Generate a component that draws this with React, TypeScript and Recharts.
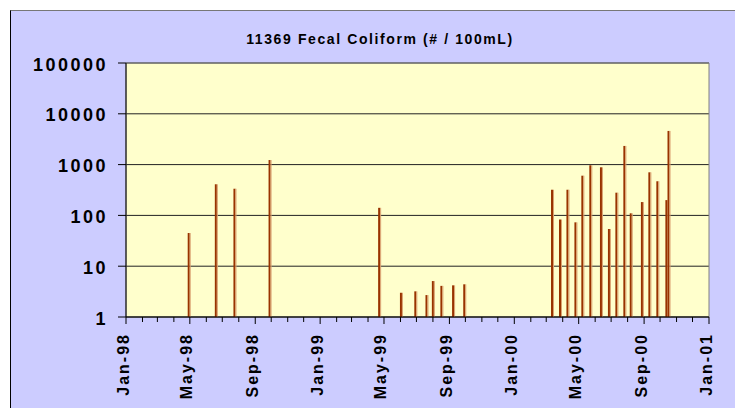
import React from 'react';
import { ComposedChart, Bar, XAxis, YAxis, CartesianGrid, ReferenceArea } from 'recharts';

const sampleDates = [
  '1998-04-29', '1998-06-19', '1998-07-24', '1998-09-28',
  '1999-04-22', '1999-06-02', '1999-06-29', '1999-07-20', '1999-08-01', '1999-08-17', '1999-09-08', '1999-09-29',
  '2000-03-12', '2000-03-27', '2000-04-10', '2000-04-25', '2000-05-08', '2000-05-23', '2000-06-12', '2000-06-27',
  '2000-07-11', '2000-07-26', '2000-08-07', '2000-08-28', '2000-09-11', '2000-09-26', '2000-10-13', '2000-10-17',
];
const coliformValues = [
  45, 410, 335, 1230,
  141, 3.0, 3.2, 2.7, 5.1, 4.1, 4.2, 4.4,
  320, 83, 320, 73, 605, 970, 885, 54,
  280, 2330, 110, 183, 705, 470, 200, 4600,
];
const yTicks = [1, 10, 100, 1000, 10000, 100000];
const xTickLabels = ['Jan-98', 'May-98', 'Sep-98', 'Jan-99', 'May-99', 'Sep-99', 'Jan-00', 'May-00', 'Sep-00', 'Jan-01'];
const monthNames = ['Jan', 'Feb', 'Mar', 'Apr', 'May', 'Jun', 'Jul', 'Aug', 'Sep', 'Oct', 'Nov', 'Dec'];

const toTime = (s: string) => {
  const [y, m, d] = s.split('-').map(Number);
  return Date.UTC(y, m - 1, d);
};

const data = sampleDates.map((d, i) => ({ t: toTime(d), v: coliformValues[i] }));

const xStart = Date.UTC(1998, 0, 1);
const xEnd = Date.UTC(2001, 0, 1);
// one tick per month, labels only where they appear in xTickLabels
const monthTicks: number[] = [];
for (let m = 0; m <= 36; m++) monthTicks.push(Date.UTC(1998, m, 1));

const monthLabel = (t: number) => {
  const d = new Date(t);
  return `${monthNames[d.getUTCMonth()]}-${String(d.getUTCFullYear()).slice(2)}`;
};

const FONT = 'Arial, "Liberation Sans", sans-serif';

const XTick = (props: any) => {
  const { x, y, payload } = props;
  const label = monthLabel(payload.value);
  const major = xTickLabels.includes(label);
  return (
    <g>
      <line x1={x} y1={y} x2={x} y2={y + (major ? 7 : 5)} stroke="#000" strokeWidth={1} />
      {major && (
        <text
          x={x - 3}
          y={y + 16}
          transform={`rotate(-90, ${x - 3}, ${y + 16})`}
          textAnchor="end"
          dominantBaseline="central"
          fontFamily={FONT}
          fontWeight="bold"
          fontSize={16}
          letterSpacing={2}
          fill="#000"
        >
          {label}
        </text>
      )}
    </g>
  );
};

const YTick = (props: any) => {
  const { x, y, payload } = props;
  return (
    <text
      x={x}
      y={y + 1.5}
      textAnchor="end"
      dominantBaseline="central"
      fontFamily={FONT}
      fontWeight="bold"
      fontSize={18}
      letterSpacing={2.5}
      fill="#000"
    >
      {payload.value}
    </text>
  );
};

const StickBar = (props: any) => {
  const { x, y, height } = props;
  if (!height || height <= 0) return null;
  return (
    <g>
      <rect x={x} y={y} width={2} height={height} fill="#993300" />
      <rect x={x + 2} y={y} width={1} height={height} fill="#d9a070" />
    </g>
  );
};

export default function App() {
  return (
    <div style={{ position: 'fixed', left: 0, top: 0, width: 735, height: 408, overflow: 'hidden', background: '#fff' }}>
      <div
        style={{
          position: 'absolute',
          left: 10,
          top: 10,
          width: 740,
          height: 410,
          background: '#ccccff',
          borderTop: '1px solid #777',
          borderLeft: '1px solid #000',
        }}
      />
      <div
        style={{
          position: 'absolute',
          left: 0,
          top: 32,
          width: 760,
          textAlign: 'center',
          fontFamily: FONT,
          fontWeight: 'bold',
          fontSize: 14,
          lineHeight: '14px',
          letterSpacing: 1.6,
          color: '#000',
        }}
      >
        11369 Fecal Coliform (# / 100mL)
      </div>
      <div style={{ position: 'absolute', left: 0, top: 0 }}>
        <ComposedChart width={735} height={408} data={data} margin={{ top: 63, right: 26, bottom: 11, left: 0 }}>
          <CartesianGrid vertical={false} stroke="#222" fill="#ffffcc" fillOpacity={1} />
          <XAxis
            dataKey="t"
            type="number"
            scale="linear"
            domain={[xStart, xEnd]}
            allowDataOverflow
            ticks={monthTicks}
            interval={0}
            height={80}
            tickSize={0}
            tickMargin={0}
            tickLine={false}
            axisLine={{ stroke: '#000' }}
            tick={<XTick />}
          />
          <YAxis
            type="number"
            scale="log"
            domain={[1, 100000]}
            allowDataOverflow
            ticks={yTicks}
            interval={0}
            width={126}
            tickSize={8}
            tickMargin={10}
            tickLine={{ stroke: '#000' }}
            axisLine={{ stroke: '#000' }}
            tick={<YTick />}
          />
          <ReferenceArea x1={xStart} x2={xEnd} y1={1} y2={100000} fill="none" stroke="#808080" ifOverflow="visible" />
          <Bar dataKey="v" barSize={3} fill="#993300" shape={<StickBar />} isAnimationActive={false} />
        </ComposedChart>
      </div>
    </div>
  );
}
